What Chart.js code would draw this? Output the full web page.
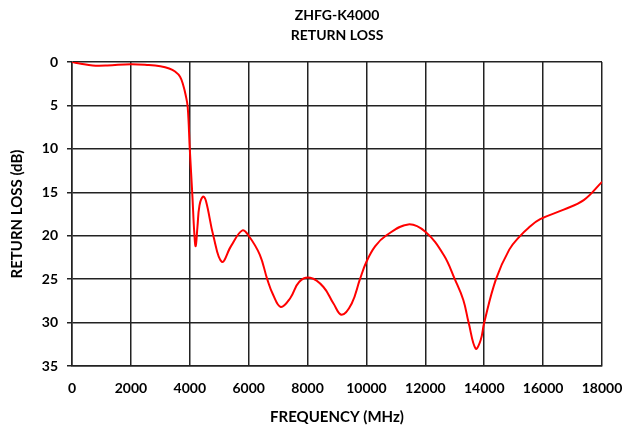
<!DOCTYPE html>
<html>
<head>
<meta charset="utf-8">
<script src="https://cdn.jsdelivr.net/npm/chart.js@4.4.0/dist/chart.umd.min.js"></script>
<style>
html,body{margin:0;padding:0;background:#fff;}
#wrap{width:625px;height:430px;}
</style>
</head>
<body>
<div id="wrap"><canvas id="c" width="625" height="430"></canvas></div>
<script>
const titleLines = ['ZHFG-K4000', 'RETURN LOSS'];
const xTitle = 'FREQUENCY (MHz)';
const yTitle = 'RETURN LOSS (dB)';
const freqMHz = [0,300,700,1200,2000,2600,3000,3300,3500,3670,3780,3860,3930,4000,4090,4150,4200,4260,4330,4450,4550,4800,5090,5400,5780,6000,6380,6630,6830,7090,7410,7720,8090,8540,8880,9160,9500,9780,10000,10300,10680,11420,12000,12620,13000,13290,13470,13710,13880,14000,14400,14850,15200,15500,15900,16700,17380,18000];
const returnLossDb = [0,0.2,0.4,0.4,0.25,0.35,0.5,0.75,1.1,1.7,2.7,3.8,5.2,10,15.5,19.5,21.2,19,16.5,15.5,16,20,23.0,21.2,19.4,20,22.2,25,26.8,28.2,27.2,25.3,24.85,25.9,27.8,29.1,27.8,25.0,23.0,21.2,19.95,18.7,19.55,22.2,25,27.4,30,33.0,32.0,30,25,21.6,20.1,19.1,18.1,17.0,15.9,13.8];
const xTicks = [0,2000,4000,6000,8000,10000,12000,14000,16000,18000];
const yTicks = [0,5,10,15,20,25,30,35];

const pts = freqMHz.map((f,i)=>({x:f,y:returnLossDb[i]}));
const FONT = 'Lato, "Open Sans", sans-serif';

const titlePlugin = {
  id: 'centeredTitle',
  afterDraw(chart) {
    const ctx = chart.ctx, a = chart.chartArea;
    const cx = (a.left + a.right) / 2;
    ctx.save();
    ctx.fillStyle = '#000';
    ctx.font = 'bold 14px ' + FONT;
    ctx.textAlign = 'center';
    ctx.textBaseline = 'middle';
    ctx.fillText(titleLines[0], cx, 15);
    ctx.fillText(titleLines[1], cx, 35);
    ctx.restore();
  }
};

new Chart(document.getElementById('c'), {
  type: 'line',
  data: { datasets: [{ data: pts, borderColor: '#ff0000', borderWidth: 2, pointRadius: 0, tension: 0.4, fill: false }] },
  options: {
    responsive: false, animation: false,
    layout: { padding: { left: 0, right: 23, top: 62, bottom: 0 } },
    plugins: { legend: { display: false }, tooltip: { enabled: false }, title: { display: false } },
    scales: {
      x: {
        type: 'linear', min: 0, max: 18000,
        afterBuildTicks: s => { s.ticks = xTicks.map(v=>({value:v})); },
        afterFit: s => { s.height = 64; s.paddingLeft = 0; s.paddingRight = 0; },
        ticks: { color: '#000', font: { family: FONT, size: 14, weight: 'bold' }, padding: 14, maxRotation: 0, callback: v => String(v) },
        grid: { color: '#222', lineWidth: 1.5, drawTicks: false },
        border: { color: '#222', width: 1.5 },
        title: { display: true, text: xTitle, color: '#000', font: { family: FONT, size: 15, weight: 'bold' }, padding: { top: 12 } }
      },
      y: {
        type: 'linear', reverse: true, min: 0, max: 35,
        afterBuildTicks: s => { s.ticks = yTicks.map(v=>({value:v})); },
        afterFit: s => { s.width = 72; s.paddingTop = 0; s.paddingBottom = 0; },
        ticks: { color: '#000', font: { family: FONT, size: 14, weight: 'bold' }, padding: 9, callback: v => String(v) },
        grid: { color: '#222', lineWidth: 1.5, drawTicks: true, tickLength: 5 },
        border: { color: '#222', width: 1.5 },
        title: { display: true, text: yTitle, color: '#000', font: { family: FONT, size: 15, weight: 'bold' }, padding: { top: 8, bottom: 0 } }
      }
    }
  },
  plugins: [titlePlugin]
});
</script>
</body>
</html>
